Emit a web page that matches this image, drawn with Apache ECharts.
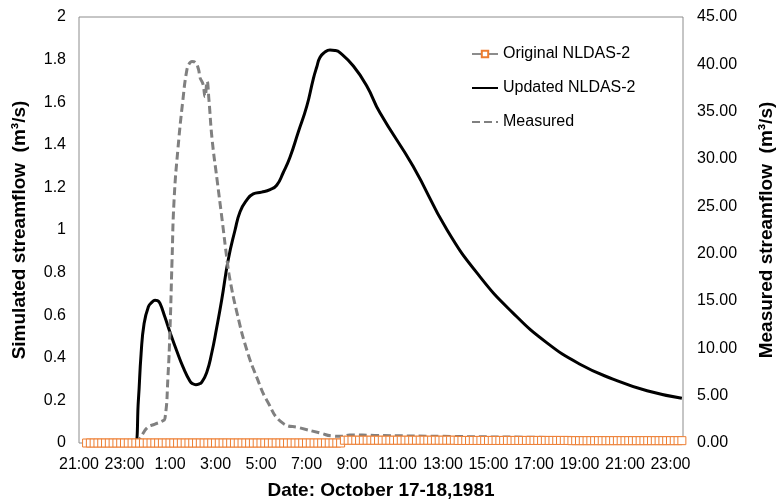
<!DOCTYPE html>
<html>
<head>
<meta charset="utf-8">
<script src="https://cdn.jsdelivr.net/npm/echarts@6/dist/echarts.min.js"></script>
<style>html,body{margin:0;padding:0;background:#fff}#c{width:778px;height:502px}</style>
</head>
<body>
<div id="c"></div>
<script>
// hours after 21:00 on Oct 17
const xTickHours = [0,2,4,6,8,10,12,14,16,18,20,22,24,26];
const xTickLabels = ['21:00','23:00','1:00','3:00','5:00','7:00','9:00','11:00','13:00','15:00','17:00','19:00','21:00','23:00'];

const updatedHours  = [0.35,1.5,2.46,2.61,2.73,2.86,3.05,3.2,3.34,3.45,3.56,3.78,4.0,4.29,4.58,4.88,5.0,5.14,5.27,5.39,5.61,5.83,6.05,6.27,6.56,6.86,7.08,7.37,7.66,8.03,8.4,8.69,8.98,9.27,9.64,10.01,10.3,10.45,10.59,10.81,11.03,11.25,11.47,12.06,12.65,13.23,14.68,16.18,17.63,19.08,20.57,22.02,23.47,24.97,26.5];
const updatedValues = [0,0,0,0.2,0.42,0.56,0.64,0.66,0.67,0.668,0.655,0.59,0.52,0.434,0.355,0.29,0.278,0.274,0.277,0.285,0.33,0.42,0.54,0.67,0.86,1.0,1.086,1.14,1.17,1.178,1.19,1.21,1.27,1.34,1.46,1.58,1.71,1.765,1.81,1.835,1.845,1.843,1.833,1.77,1.676,1.55,1.30,1.00,0.78,0.61,0.47,0.37,0.30,0.245,0.21];

const measuredHours  = [0.35,1.5,2.46,2.68,2.99,3.34,3.65,3.78,3.91,4.0,4.09,4.18,4.35,4.57,4.72,4.83,4.97,5.11,5.25,5.32,5.45,5.54,5.63,5.71,5.85,6.07,6.29,6.51,6.64,6.95,7.38,7.82,8.26,8.96,9.71,10.59,11.16,11.6,11.9,13.0,16.0,20.0,24.0,26.5];
const measuredValues = [0,0,0,0.5,1.6,2.0,2.3,2.6,7,12,19.3,25.7,31.1,36.3,39.1,40.0,40.3,40.2,39.5,38.6,37.9,36.6,38.2,36.3,32.1,27.8,23.6,19.3,17.2,13.7,9.8,6.9,4.5,2.1,1.6,1.06,0.74,0.7,0.85,0.8,0.7,0.6,0.5,0.45];

// original series, one value every 10 minutes starting 21:20
const originalStartHour = 1/3;
const originalStepHour = 1/6;
const originalValues = [
0,0,0,0,0,0,0,0,0,0,0,0,0,0,0,0,0,
0,0,0,0,0,0,0,0,0,0,0,0,0,0,0,0,0,
0,0,0,0,0,0,0,0,0,0,0,0,0,0,0,0,0,
0,0,0,0,0,0,0,0,0,0,0,0,0,0,0,0,0,
0.013,0.013,0.013,0.013,0.013,0.013,0.013,0.013,0.013,0.013,0.013,0.013,0.013,0.013,0.013,
0.013,0.013,0.013,0.013,0.013,0.013,0.013,0.013,0.013,0.013,0.013,0.013,0.013,0.013,0.013,
0.012,0.012,0.012,0.012,0.012,0.012,0.012,0.012,0.012,0.012,0.012,0.012,0.012,0.012,0.012,
0.012,0.012,0.012,0.012,0.012,0.012,0.012,0.012,0.012,0.012,0.012,0.012,0.012,0.012,0.012,
0.011,0.011,0.011,0.011,0.011,0.011,0.011,0.011,0.011,0.011,0.011,0.011,0.011,0.011,0.011,
0.011,0.011,0.011,0.011,0.011,0.011,0.011,0.011,0.011,0.011,0.011,0.011,0.011,0.011,0.011
];

const originalData = originalValues.map((v,i)=>[originalStartHour + i*originalStepHour, v]);
const updatedData = updatedHours.map((h,i)=>[h, updatedValues[i]]);
const measuredData = measuredHours.map((h,i)=>[h, measuredValues[i]]);

const FONT = 'Liberation Sans';
const chart = echarts.init(document.getElementById('c'), null, {renderer:'canvas'});
chart.setOption({
  animation: false,
  textStyle: {fontFamily: FONT},
  grid: {left: 79, right: 95, top: 17, bottom: 59, show: true, borderColor: '#8c8c8c', borderWidth: 1,
         backgroundColor: 'transparent', containLabel: false, outerBoundsMode: 'none'},
  legend: {
    orient: 'vertical', left: 466, top: 41, itemGap: 18, itemWidth: 26, itemHeight: 8,
    textStyle: {fontFamily: FONT, fontSize: 16, color: '#000'},
    data: [
      {name: 'Original NLDAS-2'},
      {name: 'Updated NLDAS-2', itemStyle: {opacity: 0}},
      {name: 'Measured', itemStyle: {opacity: 0}}
    ]
  },
  xAxis: {
    type: 'value', min: 0, max: 26.55, interval: 2,
    axisLine: {show: false}, axisTick: {show: false}, splitLine: {show: false},
    axisLabel: {
      fontSize: 16, color: '#000', margin: 14, showMaxLabel: false,
      formatter: v => { const i = xTickHours.indexOf(v); return i >= 0 ? xTickLabels[i] : ''; }
    },
    name: 'Date: October 17-18,1981', nameLocation: 'middle', nameGap: 38,
    nameTextStyle: {fontSize: 19, fontWeight: 'bold', color: '#000', fontFamily: FONT}
  },
  yAxis: [{
    type: 'value', min: 0, max: 2, interval: 0.2,
    axisLine: {show: false}, axisTick: {show: false}, splitLine: {show: false},
    axisLabel: {fontSize: 16, color: '#000', margin: 13},
    name: 'Simulated streamflow  (m³/s)', nameLocation: 'middle', nameGap: 50,
    nameTextStyle: {fontSize: 19, fontWeight: 'bold', color: '#000', fontFamily: FONT}
  },{
    type: 'value', min: 0, max: 45, interval: 5, position: 'right',
    axisLine: {show: false}, axisTick: {show: false}, splitLine: {show: false},
    axisLabel: {fontSize: 16, color: '#000', margin: 14, formatter: v => v.toFixed(2)},
    name: 'Measured streamflow  (m³/s)', nameLocation: 'middle', nameGap: 74, nameRotate: 90,
    nameTextStyle: {fontSize: 19, fontWeight: 'bold', color: '#000', fontFamily: FONT}
  }],
  series: [{
    name: 'Original NLDAS-2', type: 'line', yAxisIndex: 0, data: originalData,
    symbol: 'rect', symbolSize: 8, showSymbol: true,
    lineStyle: {color: '#8c8c8c', width: 2},
    itemStyle: {color: '#fff', borderColor: '#ED7D31', borderWidth: 1},
    z: 3
  },{
    name: 'Updated NLDAS-2', type: 'line', yAxisIndex: 0, data: updatedData,
    symbol: 'none', smooth: 0.5,
    lineStyle: {color: '#000', width: 3},
    itemStyle: {color: '#000'},
    z: 2
  },{
    name: 'Measured', type: 'line', yAxisIndex: 1, data: measuredData,
    symbol: 'none', smooth: 0.5,
    lineStyle: {color: '#808080', width: 3, type: [8, 4]},
    itemStyle: {color: '#808080'},
    z: 2
  }]
});
</script>
</body>
</html>
